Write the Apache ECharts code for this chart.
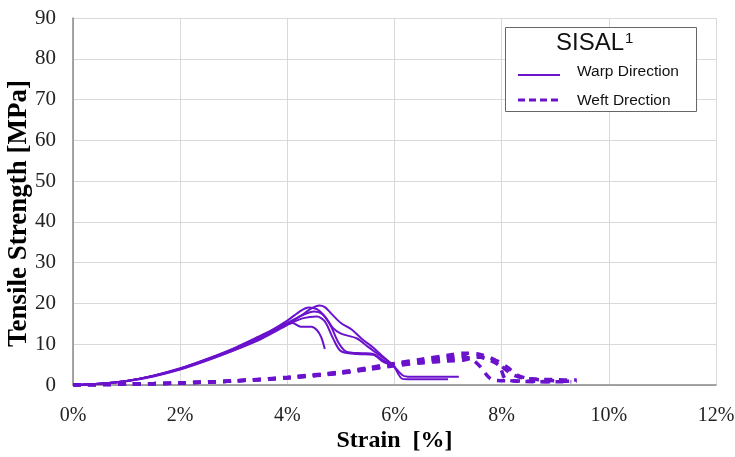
<!DOCTYPE html>
<html>
<head>
<meta charset="utf-8">
<script src="https://cdn.jsdelivr.net/npm/echarts@6/dist/echarts.min.js"></script>
<style>
  html, body { margin: 0; padding: 0; background: #fff; }
  #chart { width: 735px; height: 457px; }
</style>
</head>
<body>
<div id="chart"></div>
<script>
// Strain [%] vs. tensile strength [MPa], sisal fabric specimens
const xTicks = [0, 2, 4, 6, 8, 10, 12];
const yTicks = [0, 10, 20, 30, 40, 50, 60, 70, 80, 90];
const legendTitle = 'SISAL';
const legendNames = ['Warp Direction', 'Weft Drection'];

// Warp direction specimens: [strain %, MPa]
const warp1 = [[0,0],[0.5,0.3],[1,0.9],[1.5,2.1],[2,3.8],[2.5,6],[3,8.5],[3.5,11.4],[4,15],[4.3,17.4],[4.45,18.8],[4.6,19.5],[4.7,19.1],[4.8,17.8],[5.0,15.2],[5.2,13.6],[5.4,11.2],[5.6,9.2],[5.8,6.8],[5.97,4.9],[6.15,2.4],[6.3,2.0],[7.2,2.0]];
const warp2 = [[0,0],[0.5,0.3],[1,1],[1.5,2.2],[2,4],[2.5,6.3],[3,8.9],[3.5,11.9],[4,15.8],[4.25,18.2],[4.4,19],[4.55,18.6],[4.7,16.8],[4.85,14],[5.0,12.6],[5.3,11.4],[5.5,9.4],[5.7,7.5],[5.97,4.9],[6.15,1.5],[6.3,1.4],[7.0,1.4]];
const warp3 = [[0,0],[0.5,0.3],[1,1],[1.5,2.3],[2,4.1],[2.5,6.4],[3,9],[3.5,12.1],[4,15.2],[4.3,17.2],[4.5,18],[4.65,17.4],[4.8,14.8],[4.95,10.5],[5.1,8.2],[5.4,7.8],[5.6,7.6],[5.8,6],[5.97,4.9]];
const warp4 = [[0,0],[0.5,0.3],[1,1],[1.5,2.3],[2,4],[2.5,6.2],[3,8.7],[3.5,11.7],[4,14.8],[4.3,16.4],[4.55,16.8],[4.7,15.6],[4.85,11.5],[5.0,8.3],[5.3,7.6],[5.6,7.4],[5.8,5.6],[5.97,4.9]];
const warp5 = [[0,0],[0.5,0.3],[1,1],[1.5,2.2],[2,3.9],[2.5,6.1],[3,8.5],[3.5,11.2],[3.9,14],[4.1,15.2],[4.25,14.3],[4.45,14.3],[4.55,13.5],[4.63,11.8],[4.7,8.8]];

// Weft direction specimens: [strain %, MPa]
const weft1 = [[0,0],[1,0.2],[2,0.5],[3,1],[4,1.9],[5,3.2],[5.5,4.2],[6,5.3],[6.5,6.3],[7,7.3],[7.3,7.8],[7.6,7.5],[7.85,6.3],[8.0,4.6],[8.2,2.6],[8.45,1.6],[9.0,1.3],[9.4,1.2]];
const weft2 = [[0,0],[1,0.2],[2,0.5],[3,1],[4,1.8],[5,3],[5.5,4],[6,5],[6.5,6],[7,6.8],[7.25,7.1],[7.45,6.2],[7.6,4.5],[7.75,2],[7.85,1.2],[8.3,1.0],[9.0,0.8]];
const weft3 = [[0,0],[1,0.2],[2,0.5],[3,1],[4,1.8],[5,3],[5.5,3.9],[6,4.9],[6.5,5.7],[7,6.3],[7.3,6.6],[7.6,6.8],[7.9,6],[8.1,4.4],[8.3,2.4],[8.5,1.6],[9.0,1.0],[9.4,0.9]];
const weft4 = [[0,0],[1,0.2],[2,0.5],[3,1],[4,1.7],[5,2.9],[5.5,3.8],[6,4.7],[6.5,5.4],[7,5.9],[7.3,6.1],[7.55,6.9],[7.75,6.2],[7.95,4.8],[8.1,1.2],[8.7,0.8],[9.3,0.8]];

const warpSets = [warp1, warp2, warp3, warp4, warp5];
const weftSets = [weft1, weft2, weft3, weft4];

const PURPLE = '#6a12cc';
const serif = '"Liberation Serif", "Times New Roman", serif';
const sans = '"Liberation Sans", Arial, sans-serif';

const series = [];
warpSets.forEach(d => series.push({
  name: legendNames[0], type: 'line', data: d, symbol: 'none', smooth: 0.3,
  lineStyle: { color: PURPLE, width: 2 }, z: 3
}));
weftSets.forEach(d => series.push({
  name: legendNames[1], type: 'line', data: d, symbol: 'none', smooth: 0.3,
  lineStyle: { color: PURPLE, width: 3.5, type: [8, 7] }, z: 2
}));

// Boxed key in the upper right: title, solid sample, dashed sample
const legendGraphics = [
  { type: 'rect', left: 505, top: 27, shape: { width: 191, height: 84 },
    style: { fill: '#fff', stroke: '#666', lineWidth: 1 }, z: 10 },
  { type: 'text', left: 556, top: 31, z: 11,
    style: { text: '{a|' + legendTitle + '}{b|1}', rich: {
      a: { fontFamily: sans, fontSize: 24, fill: '#111' },
      b: { fontFamily: sans, fontSize: 15, fill: '#111', verticalAlign: 'top', padding: [0, 0, 10, 1] }
    } } },
  { type: 'line', z: 11, shape: { x1: 518, y1: 75, x2: 560, y2: 75 },
    style: { stroke: PURPLE, lineWidth: 2 } },
  { type: 'line', z: 11, shape: { x1: 518, y1: 100, x2: 560, y2: 100 },
    style: { stroke: PURPLE, lineWidth: 3, lineDash: [7, 4] } },
  { type: 'text', left: 577, top: 64, z: 11,
    style: { text: legendNames[0], fontFamily: sans, fontSize: 15.5, fill: '#111' } },
  { type: 'text', left: 577, top: 93, z: 11,
    style: { text: legendNames[1], fontFamily: sans, fontSize: 15.5, fill: '#111' } }
];

const chart = echarts.init(document.getElementById('chart'), null, { renderer: 'canvas' });
chart.setOption({
  animation: false,
  backgroundColor: '#fff',
  grid: { left: 73, right: 19, top: 18, bottom: 72, containLabel: false, outerBoundsMode: 'none' },
  xAxis: {
    type: 'value', min: xTicks[0], max: xTicks[xTicks.length - 1], interval: 2,
    name: 'Strain  [%]', nameLocation: 'middle', nameGap: 44, nameMoveOverlap: false,
    nameTextStyle: { fontFamily: serif, fontWeight: 'bold', fontSize: 24, color: '#000' },
    axisLine: { show: true, lineStyle: { color: '#888', width: 1.5 } },
    axisTick: { show: false },
    axisLabel: { formatter: v => v + '%', fontFamily: serif, fontSize: 20, color: '#222', margin: 21 },
    splitLine: { show: true, lineStyle: { color: '#d9d9d9', width: 1 } }
  },
  yAxis: {
    type: 'value', min: yTicks[0], max: yTicks[yTicks.length - 1], interval: 10,
    name: 'Tensile Strength [MPa]', nameLocation: 'middle', nameGap: 40, nameMoveOverlap: false,
    nameTextStyle: { fontFamily: serif, fontWeight: 'bold', fontSize: 27, color: '#000', padding: [0, 24, 0, 0] },
    axisLine: { show: true, lineStyle: { color: '#888', width: 1.5 } },
    axisTick: { show: false },
    axisLabel: { fontFamily: serif, fontSize: 21, color: '#222', margin: 17 },
    splitLine: { show: true, lineStyle: { color: '#d9d9d9', width: 1 } }
  },
  graphic: legendGraphics,
  series
});
</script>
</body>
</html>
